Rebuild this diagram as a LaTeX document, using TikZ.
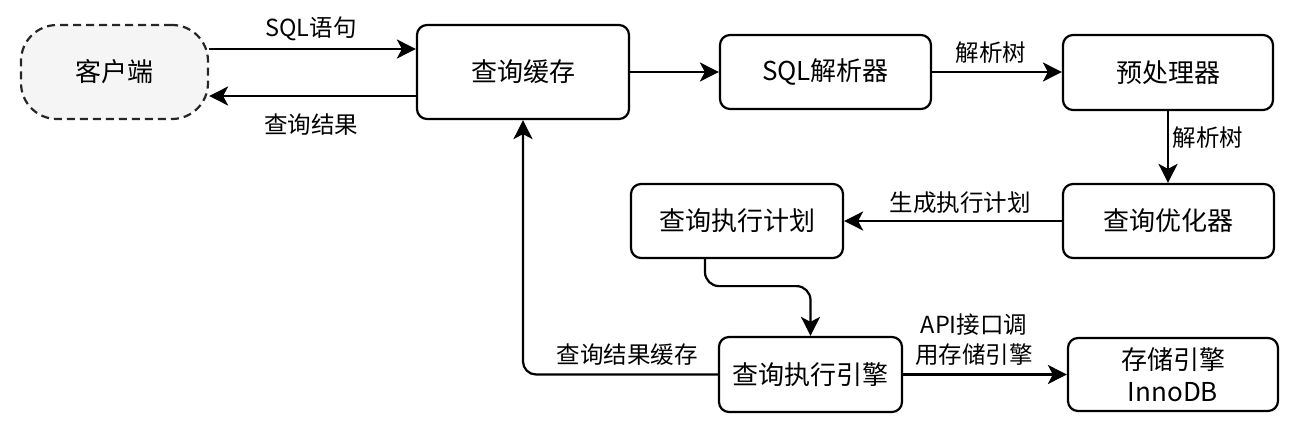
\documentclass[tikz,border=0pt]{standalone}
\usepackage{fontspec}
\setmainfont{Noto Sans CJK SC}
\usetikzlibrary{arrows.meta}
\begin{document}
\begin{tikzpicture}[x=1pt,y=-1pt,
  box/.style={draw=black, line width=2.2pt, rounded corners=10pt, inner sep=0pt, align=center, font=\fontsize{26}{32}\selectfont},
  client/.style={draw=black!85, fill=black!4, dash pattern=on 8pt off 5pt, line width=2.2pt, rounded corners=36pt, inner sep=0pt, font=\fontsize{26}{32}\selectfont},
  arr/.style={line width=2.2pt, -{Stealth[length=19pt,width=19pt,inset=5pt]}},
  lbl/.style={font=\fontsize{23.5}{30}\selectfont, inner sep=0pt, align=center}
]
\useasboundingbox (0,0) rectangle (1302,428);
\node[client, minimum width=187pt, minimum height=94pt] (client) at (114.5,72) {客户端};
\node[box, minimum width=212pt, minimum height=94pt] (cache) at (523,72) {查询缓存};
\node[box, minimum width=211pt, minimum height=74pt] (parser) at (825.5,72) {SQL解析器};
\node[box, minimum width=210pt, minimum height=75pt] (pre) at (1168,72.5) {预处理器};
\node[box, minimum width=211pt, minimum height=74pt] (opt) at (1168.5,221) {查询优化器};
\node[box, minimum width=212pt, minimum height=74pt] (plan) at (737,221) {查询执行计划};
\node[box, minimum width=183pt, minimum height=75pt] (engine) at (810.5,374.5) {查询执行引擎};
\node[box, minimum width=210pt, minimum height=73pt] (store) at (1173,374.5) {存储引擎\\InnoDB};

\draw[arr] ([yshift=23pt]client.east) -- ([yshift=23pt]cache.west);
\draw[arr] ([yshift=-24pt]cache.west) -- ([yshift=-24pt]client.east);
\draw[arr] (cache.east) -- (parser.west);
\draw[arr] (parser.east) -- (pre.west |- parser.east);
\draw[arr] (pre.south) -- (pre.south |- opt.north);
\draw[arr] (opt.west) -- (plan.east);
\draw[arr, rounded corners=14pt] ([xshift=-32pt]plan.south) -- ++(0,27) -| (engine.north);
\draw[arr] (engine.east) -- (store.west |- engine.east);
\draw[arr, rounded corners=13pt] (engine.west) -| (cache.south);

\node[lbl] (l1) at (311,29) {SQL语句};
\node[lbl] (l2) at (311,125) {查询结果};
\node[lbl] (l3) at (991,53) {解析树};
\node[lbl] (l4) at (1208,138) {解析树};
\node[lbl] (l5) at (960,203) {生成执行计划};
\node[lbl] (l6) at (974,340) {API接口调\\用存储引擎};
\node[lbl] (l7) at (627,355) {查询结果缓存};
\end{tikzpicture}
\end{document}
